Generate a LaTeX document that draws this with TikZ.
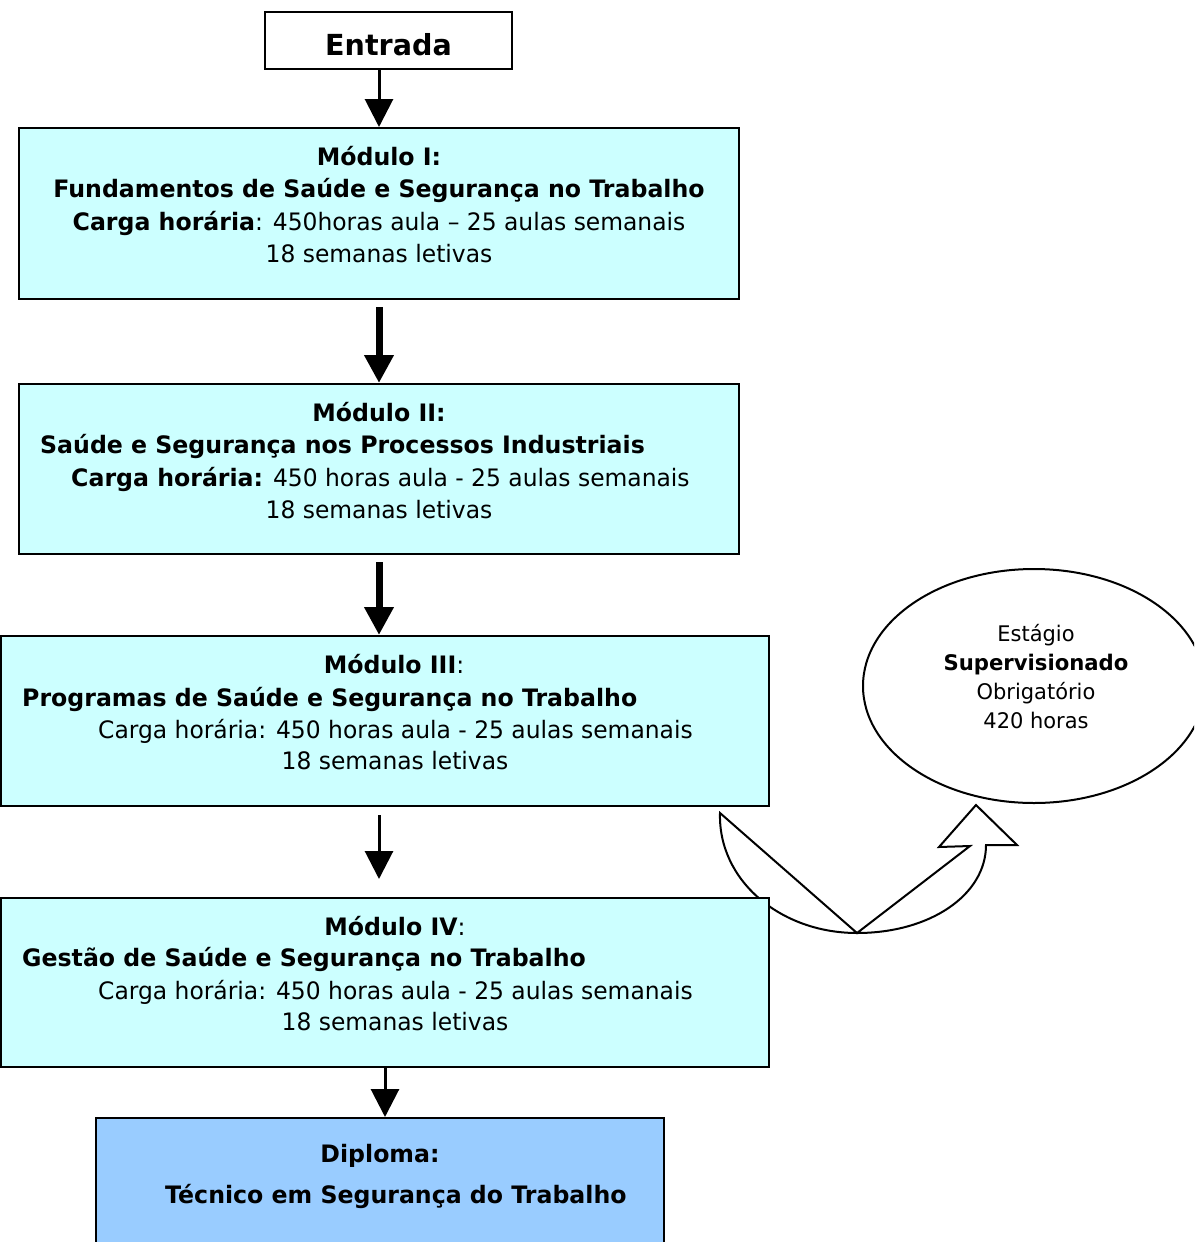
\documentclass[tikz,border=0pt]{standalone}
\usepackage{fontspec}
\setmainfont[FakeStretch=0.975,BoldFeatures={FakeStretch=0.985}]{DejaVu Sans}
\usetikzlibrary{arrows.meta}
\definecolor{cyanbox}{HTML}{CCFFFF}
\definecolor{diplo}{HTML}{99CCFF}
\begin{document}
\begin{tikzpicture}[x=1pt,y=-1pt,
  box/.style={draw=black,line width=2pt,fill=cyanbox,inner sep=0pt},
  txt/.style={inner sep=0pt,anchor=base,font=\fontsize{24}{29}\selectfont},
  txtw/.style={txt,anchor=base west},
  etxt/.style={inner sep=0pt,anchor=base,font=\fontsize{21.5}{25}\selectfont},
  thinarrow/.style={line width=3pt,-{Triangle[width=28pt,length=28pt]}},
  thickarrow/.style={line width=7pt,-{Triangle[width=28pt,length=28pt]}}]
\clip (0,0) rectangle (1194,1242);
\useasboundingbox (0,0) rectangle (1194,1242);
\fill[white] (0,0) rectangle (1194,1242);

% Entrada
\node[draw=black,line width=2pt,fill=white,minimum width=247pt,minimum height=57pt,inner sep=0pt] (entrada) at (388.5,40.5) {};
\node[inner sep=0pt,anchor=base,font=\fontsize{29}{34}\selectfont\bfseries] (entradat) at (388.5,55) {Entrada};

% curved up arrow (drawn under module IV)
\draw[line width=2pt,fill=white,line join=miter]
  (720,813) .. controls (718,880) and (780,933) .. (857,933)
  .. controls (930,933) and (986,895) .. (986,845)
  -- (1017,845) -- (976,805) -- (939,847) -- (970,846) -- (857,933) -- cycle;

% Ellipse
\draw[line width=2pt,fill=white] (1034,686) ellipse [x radius=171, y radius=117];
\node[etxt] (e1) at (1036,641) {Estágio};
\node[etxt,font=\fontsize{21.5}{25}\selectfont\bfseries] (e2) at (1036,670) {Supervisionado};
\node[etxt] (e3) at (1036,699) {Obrigatório};
\node[etxt] (e4) at (1036,728) {420 horas};

% Module I
\node[box,minimum width=720pt,minimum height=171pt] (m1) at (379,213.5) {};
\node[txt,font=\fontsize{24}{29}\selectfont\bfseries] (m1a) at (379,165) {Módulo I:};
\node[txt,font=\fontsize{24}{29}\selectfont\bfseries] (m1b) at (379,197) {Fundamentos de Saúde e Segurança no Trabalho};
\node[txt] (m1c) at (379,230) {\textbf{Carga horária}: 450horas aula – 25 aulas semanais};
\node[txt] (m1d) at (379,262) {18 semanas letivas};

% Module II
\node[box,minimum width=720pt,minimum height=170pt] (m2) at (379,469) {};
\node[txt,font=\fontsize{24}{29}\selectfont\bfseries] (m2a) at (379,421) {Módulo II:};
\node[txtw,font=\fontsize{24}{29}\selectfont\bfseries] (m2b) at (40,453) {Saúde e Segurança nos Processos Industriais};
\node[txtw] (m2c) at (71,486) {\textbf{Carga horária:} 450 horas aula - 25 aulas semanais};
\node[txt] (m2d) at (379,518) {18 semanas letivas};

% Module III
\node[box,minimum width=768pt,minimum height=170pt] (m3) at (385,721) {};
\node[txt] (m3a) at (394,673) {\textbf{Módulo III}:};
\node[txtw,font=\fontsize{24}{29}\selectfont\bfseries] (m3b) at (22,706) {Programas de Saúde e Segurança no Trabalho};
\node[txtw] (m3c) at (98,738) {Carga horária: 450 horas aula - 25 aulas semanais};
\node[txt] (m3d) at (395,769) {18 semanas letivas};

% Module IV
\node[box,minimum width=768pt,minimum height=169pt] (m4) at (385,982.5) {};
\node[txt] (m4a) at (395,935) {\textbf{Módulo IV}:};
\node[txtw,font=\fontsize{24}{29}\selectfont\bfseries] (m4b) at (22,966) {Gestão de Saúde e Segurança no Trabalho};
\node[txtw] (m4c) at (98,999) {Carga horária: 450 horas aula - 25 aulas semanais};
\node[txt] (m4d) at (395,1030) {18 semanas letivas};

% Diploma
\node[box,fill=diplo,minimum width=568pt,minimum height=150pt,anchor=north] (dip) at (380,1117) {};
\node[txt,font=\fontsize{24}{29}\selectfont\bfseries] (dipa) at (380,1162) {Diploma:};
\node[txtw,font=\fontsize{24}{29}\selectfont\bfseries] (dipb) at (165,1203) {Técnico em Segurança do Trabalho};

% Arrows
\draw[thinarrow] (m1.north |- entrada.south) -- (m1.north);
\draw[thickarrow,shorten <=7pt] (m1.south) -- (m2.north);
\draw[thickarrow,shorten <=7pt] (m2.south) -- (m2.south |- m3.north);
\draw[thinarrow,shorten <=8pt,shorten >=18pt] (m1.south |- m3.south) -- (m1.south |- m4.north);
\draw[thinarrow] (m4.south) -- (m4.south |- dip.north);
\end{tikzpicture}
\end{document}
